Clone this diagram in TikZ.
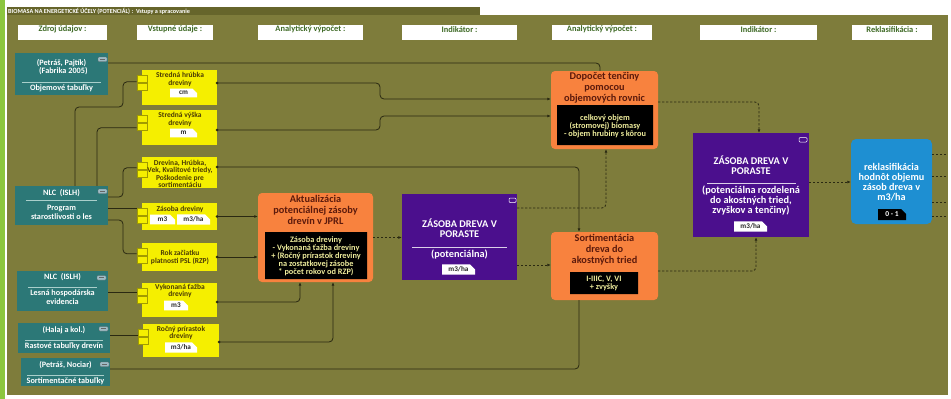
\documentclass[tikz,border=0pt]{standalone}
\usepackage{fontspec}
\setmainfont{Carlito}
\usetikzlibrary{fit,shapes.misc,arrows.meta,calc}
\definecolor{bgOlive}{HTML}{7E7C3B}
\definecolor{tabOlive}{HTML}{66652B}
\definecolor{leftGreen}{HTML}{8CC63F}
\definecolor{srcTeal}{HTML}{2C7877}
\definecolor{srcLine}{HTML}{A9CFCB}
\definecolor{iconC}{HTML}{9DBCC6}
\definecolor{yel}{HTML}{F5EF00}
\definecolor{yelPort}{HTML}{E6DE00}
\definecolor{yelTxt}{HTML}{4A3A05}
\definecolor{org}{HTML}{F8823E}
\definecolor{orgTxt}{HTML}{5C1A0C}
\definecolor{blkTxt}{HTML}{EEEC9C}
\definecolor{purp}{HTML}{4B0F8D}
\definecolor{blu}{HTML}{1E8FD2}
\definecolor{lineC}{HTML}{2A2912}
\definecolor{hdrTxt}{HTML}{3F6A26}
\newcommand{\fs}[2]{\fontsize{#1}{#2}\selectfont}
\begin{document}
\begin{tikzpicture}[x=1pt,y=-1pt,
  every node/.style={font=\bfseries},
  hdr/.style={fill=white, inner sep=0pt, text=hdrTxt, font=\bfseries\fs{8.4}{9}},
  srcbox/.style={fill=srcTeal, inner sep=0pt},
  srctxt/.style={text=white, align=center, inner sep=0pt, font=\bfseries\fs{8.2}{8.8}},
  ybox/.style={fill=yel, inner sep=0pt},
  yport/.style={fill=yel, draw=yelPort!70!black, line width=0.3pt, minimum width=10pt, minimum height=7pt, inner sep=0pt},
  ytxt/.style={text=yelTxt, align=center, inner sep=0pt, font=\bfseries\fs{7.5}{7.5}},
  unitW/.style={chamfered rectangle, chamfered rectangle corners=north east, chamfered rectangle sep=2.5pt, fill=white, inner sep=0pt, text=black!85, font=\bfseries\fs{7.2}{7.2}},
  obox/.style={fill=org, rounded corners=4pt, inner sep=0pt},
  otitle/.style={text=orgTxt, align=center, inner sep=0pt, font=\bfseries\fs{10.3}{11}},
  blk/.style={chamfered rectangle, chamfered rectangle corners=south east, chamfered rectangle sep=4pt, fill=black, inner sep=0pt},
  blktxt/.style={text=blkTxt, align=center, inner sep=0pt, font=\bfseries\fs{8.3}{8}},
  pbox/.style={fill=purp, inner sep=0pt},
  ptxt/.style={text=white, align=center, inner sep=0pt, font=\bfseries\fs{10.3}{10.4}},
  btxt/.style={text=white, align=center, inner sep=0pt, font=\bfseries\fs{10.2}{10.2}},
  bbox/.style={fill=blu, rounded corners=5pt, inner sep=0pt},
  conn/.style={draw=lineC, line width=0.8pt, rounded corners=4pt},
  arr/.style={-{Latex[length=3.5pt,width=3pt]}},
  dsh/.style={dash pattern=on 2.2pt off 1.8pt},
  ydot/.style={circle, fill=lineC, inner sep=0pt, minimum size=3pt}
]
\useasboundingbox (0,0) rectangle (951,399);
% background
\fill[white] (0,0) rectangle (951,399);
\fill[leftGreen] (0,0) rectangle (5,399);
\fill[bgOlive] (7,15) rectangle (948,395);
\fill[tabOlive] (7,7) rectangle (480,15);
\node[anchor=west, text=white, inner sep=0pt, font=\bfseries\fs{6.2}{6.2}] (title) at (8,11.2) {BIOMASA NA ENERGETICKÉ ÚČELY (POTENCIÁL) :\ \ Vstupy a spracovanie};

% headers
\node[hdr, fit={(18,25) (107,40)}] (h1) {Zdroj údajov :};
\node[hdr, fit={(137,25) (213,40)}] (h2) {Vstupné údaje :};
\node[hdr, fit={(258,25) (363,40)}] (h3) {Analytický výpočet :};
\node[hdr, fit={(402,25) (517,40)}] (h4) {Indikátor :};
\node[hdr, fit={(552,25) (652,40)}] (h5) {Analytický výpočet :};
\node[hdr, fit={(700,25) (817,40)}] (h6) {Indikátor :};
\node[hdr, fit={(852,25) (932,40)}] (h7) {Reklasifikácia :};

% source boxes
\node[srcbox, fit={(15,53) (108,95)}] (s1) {};
\node[srcbox, fit={(15,186) (108,225)}] (s2) {};
\node[srcbox, fit={(17,271) (108,311)}] (s3) {};
\node[srcbox, fit={(18,323) (110,353)}] (s4) {};
\node[srcbox, fit={(21,358) (110,386)}] (s5) {};
\foreach \n/\xa/\xb/\ya in {s1/98/107/57, s2/98/107/189, s3/97/106/275.5, s4/99/108/326.5, s5/100/109/362}{
  \draw[fill=iconC, draw=black!60, line width=0.3pt, rounded corners=1pt] (\xa,\ya) rectangle (\xb,\ya+4.5);
  \draw[black!60, line width=0.6pt] (\xa+2,\ya+2.25) -- (\xb-2,\ya+2.25);
}
\node[srctxt] (s1a) at (61.5,67) {(Petráš, Pajtík)\\\ \ (Fabrika 2005)};
\draw[srcLine, line width=0.5pt] (22,82) -- (101,82);
\node[srctxt] (s1b) at (61.5,88.5) {Objemové tabuľky};
\node[srctxt] (s2a) at (61.5,193.5) {NLC\ \ (ISLH)};
\draw[srcLine, line width=0.5pt] (26,200) -- (97,200);
\node[srctxt] (s2b) at (61.5,212.5) {Program\\starostlivosti o les};
\node[srctxt] (s3a) at (62.5,277.5) {NLC\ \ (ISLH)};
\draw[srcLine, line width=0.5pt] (28,287) -- (97,287);
\node[srctxt] (s3b) at (62.5,297.5) {Lesná hospodárska\\evidencia};
\node[srctxt] (s4a) at (64,330) {(Halaj a kol.)};
\draw[srcLine, line width=0.5pt] (25,340) -- (103,340);
\node[srctxt] (s4b) at (64,346.5) {Rastové tabuľky drevín};
\node[srctxt] (s5a) at (65.5,365) {(Petráš, Nociar)};
\draw[srcLine, line width=0.5pt] (27,375) -- (104,375);
\node[srctxt] (s5b) at (65.5,381.5) {Sortimentačné tabuľky};

% yellow boxes
\node[ybox, fit={(142,70) (217,105)}] (y1) {};
\node[ybox, fit={(142,110) (217,145)}] (y2) {};
\node[ybox, fit={(142,157) (217,188)}] (y3) {};
\node[ybox, fit={(142,203) (217,230)}] (y4) {};
\node[ybox, fit={(142,243) (217,271)}] (y5) {};
\node[ybox, fit={(142,283) (217,317)}] (y6) {};
\node[ybox, fit={(143,324) (219,357)}] (y7) {};
\foreach \n in {y1,y2,y3,y4,y5,y6,y7}{
  \node[yport] (\n p1) at ([yshift=-8.5pt]\n.north west) {};
  \node[yport] (\n p2) at ([yshift=-16.5pt]\n.north west) {};
}
\node[ytxt] (y1t) at (180,79.5) {Stredná hrúbka\\dreviny};
\node[unitW, minimum width=27pt, minimum height=8.5pt] (y1u) at (183.5,93) {cm};
\node[ytxt] (y2t) at (180,119.5) {Stredná výška\\dreviny};
\node[unitW, minimum width=27pt, minimum height=8.5pt] (y2u) at (183.5,133) {m};
\node[ytxt] (y3t) at (180,174) {Drevina, Hrúbka,\\Vek, Kvalitové triedy,\\Poškodenie pre\\sortimentáciu};
\node[ytxt] (y4t) at (180,209) {Zásoba dreviny};
\node[unitW, minimum width=25pt, minimum height=8.5pt] (y4u1) at (162.5,219.5) {m3};
\node[unitW, minimum width=33pt, minimum height=8.5pt] (y4u2) at (193.5,219.5) {m3/ha};
\node[ytxt] (y5t) at (180,257.5) {Rok začiatku\\platnosti PSL (RZP)};
\node[ytxt] (y6t) at (180,291) {Vykonaná ťažba\\dreviny};
\node[unitW, minimum width=24pt, minimum height=8.5pt] (y6u) at (176,305.5) {m3};
\node[ytxt] (y7t) at (181,333) {Ročný prírastok\\dreviny};
\node[unitW, minimum width=32pt, minimum height=8.5pt] (y7u) at (181,347.5) {m3/ha};

% port entry points
\coordinate (e1) at ([yshift=-3.5pt]y1p1.west);
\coordinate (e2) at ([yshift=-1.5pt]y2p2.west);
\coordinate (e3) at ([yshift=-2.5pt]y3p1.west);
\coordinate (e4) at ([yshift=2.5pt]y4p1.west);
\coordinate (e5) at ([yshift=-2.5pt]y5p1.west);
\coordinate (e6) at ([yshift=-1.5pt]y6p1.west);
\coordinate (e7) at ([yshift=-3.5pt]y7p1.west);

% orange A
\node[obox, fit={(258,193) (373,282)}] (A) {};
\node[otitle] (At) at (315.5,210) {Aktualizácia\\potenciálnej zásoby\\drevín v JPRL};
\node[blk, minimum width=102pt, minimum height=47pt] (Ab) at (316,255.5) {};
\node[blktxt] (Abt) at (316,256) {Zásoba dreviny\\- Vykonaná ťažba dreviny\\+ (Ročný prírastok dreviny\\na zostatkovej zásobe\\* počet rokov od RZP)};
% orange C
\node[obox, fit={(551,71) (658,149)}] (C) {};
\node[otitle] (Ct) at (604.5,88) {Dopočet tenčiny\\pomocou\\objemových rovnic};
\node[blk, minimum width=96pt, minimum height=40pt] (Cb) at (605,125) {};
\node[blktxt] (Cbt) at (605,126) {celkový objem\\(stromovej) biomasy\\- objem hrubiny s kôrou};
% orange D
\node[obox, fit={(551,232) (658,300)}] (D) {};
\node[otitle] (Dt) at (604.5,249.5) {Sortimentácia\\dreva do\\akostných tried};
\node[blk, minimum width=68pt, minimum height=22pt] (Db) at (604,283) {};
\node[blktxt] (Dbt) at (604,283.5) {I-IIIC, V, VI\\+ zvyšky};
% purple B
\node[pbox, fit={(402,194) (517,280)}] (B) {};
\draw[white, line width=0.5pt, rounded corners=1pt] (509,198) rectangle (516,202.5);
\node[ptxt] (Bt) at (459.5,228) {ZÁSOBA DREVA V\\PORASTE};
\draw[white!80!purp, line width=0.5pt] (412,247) -- (507,247);
\node[ptxt] (Bt2) at (459.5,254) {(potenciálna)};
\node[unitW, minimum width=33pt, minimum height=9pt] (Bu) at (458.5,269.5) {m3/ha};
% purple E
\node[pbox, fit={(693,133) (809,237)}] (E) {};
\draw[white, line width=0.5pt, rounded corners=1pt] (799,137.5) rectangle (807,142);
\node[ptxt] (Et) at (751,165) {ZÁSOBA DREVA V\\PORASTE};
\draw[white!80!purp, line width=0.5pt] (707,183) -- (796,183);
\node[ptxt] (Et2) at (751,200.5) {(potenciálna rozdelená\\do akostných tried,\\zvyškov a tenčiny)};
\node[unitW, minimum width=33pt, minimum height=10pt] (Eu) at (750.5,226.5) {m3/ha};
% blue F
\node[bbox, fit={(851,139) (932,224)}] (F) {};
\node[btxt] (Ft) at (891.5,182) {reklasifikácia\\hodnôt objemu\\zásob dreva v\\m3/ha};
\node[chamfered rectangle, chamfered rectangle corners=north east, chamfered rectangle sep=2.5pt, fill=black, inner sep=0pt, minimum width=28pt, minimum height=11pt, text=white, font=\bfseries\fs{7.5}{7.5}] (Fu) at (892,214.5) {0 - 1};

% connectors from sources
\draw[conn] ([yshift=11pt]s1.east) -| ([xshift=-4.5pt]C.north);
\draw[conn] ([xshift=13.5pt]s2.north) -- (75,107) -- (123,107) |- (e1);
\draw[conn] ([xshift=35.5pt]s2.north) |- (e2);
\draw[conn] ([yshift=8.5pt]s2.east) -- (123,197) |- (e3);
\draw[conn] (s2.east |- e4) -- (e4);
\draw[conn] ([yshift=-14.5pt]s2.east) -- (123,220) |- (e5);
\draw[conn] (s3.east |- e6) -- (e6);
\draw[conn] (s4.east |- e7) -- (e7);
\draw[conn] ([yshift=3pt]s5.east) -| ([xshift=-25.5pt]D.south);

% connectors from yellow boxes
\node[ydot] (d1) at ([yshift=4.5pt]y1.east) {};
\node[ydot] (d2) at ([yshift=-2.5pt]y2.east) {};
\node[ydot] (d3) at ([yshift=5.5pt]y3.east) {};
\node[ydot] (d4) at (y4.east) {};
\node[ydot] (d5) at (y5.east) {};
\node[ydot] (d6) at ([yshift=-2pt]y6.east) {};
\node[ydot] (d7) at ([yshift=-1.5pt]y7.east) {};
\draw[conn, arr] (d1.center) -- (380,83) -- (380,99) -- ([yshift=11pt]C.west);
\draw[conn, arr] (d2.center) -- (380,130) -- (380,116) -- ([yshift=-6pt]C.west);
\draw[conn, arr] (d3.center) -| ([xshift=-25.5pt]D.north);
\draw[conn, arr] (d4.center) -- (d4.center -| A.west);
\draw[conn, arr] (d5.center) -- (d5.center -| A.west);
\draw[conn, arr] (d6.center) -| ([xshift=-15.5pt]A.south);
\draw[conn, arr] (d7.center) -| ([xshift=17.5pt]A.south);

% dashed flow
\draw[conn, dsh, arr] (A.east) -- (A.east -| B.west);
\draw[conn, dsh, arr] ([yshift=29pt]B.east) -| ([xshift=1.5pt]C.south);
\draw[conn, dsh, arr] ([yshift=-28pt]B.east) -- ([yshift=1pt]D.west);
\draw[conn, dsh, arr] ([yshift=8pt]C.east) -| ([xshift=8pt]E.north);
\draw[conn, dsh, arr] ([yshift=-5pt]D.east) -| ([xshift=5pt]E.south);
\draw[conn, dsh, arr] ([yshift=3pt]E.east) -- ([yshift=-0.5pt]F.west);
\coordinate (o1) at (948,154);
\coordinate (o2) at (948,176);
\coordinate (o3) at (948,202);
\coordinate (o4) at (948,216);
\draw[conn, dsh] ([yshift=27.5pt]F.east) -- (o1);
\draw[conn, dsh] ([yshift=5.5pt]F.east) -- (o2);
\draw[conn, dsh] ([yshift=-20.5pt]F.east) -- (o3);
\draw[conn, dsh] ([yshift=-34.5pt]F.east) -- (o4);
\end{tikzpicture}
\end{document}
